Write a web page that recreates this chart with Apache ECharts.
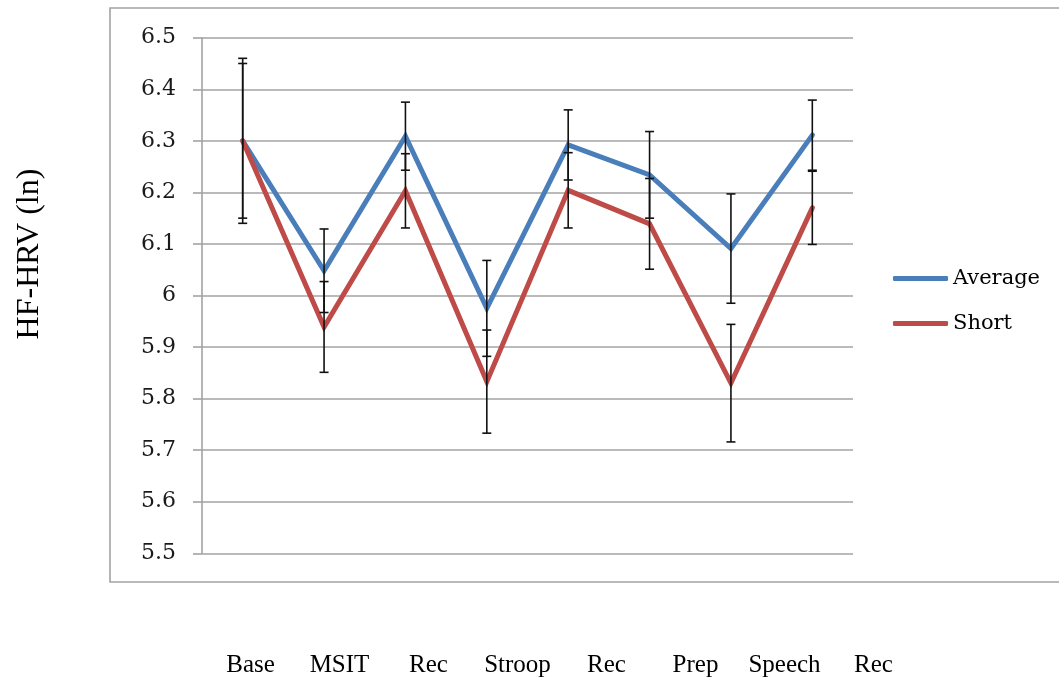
<!DOCTYPE html>
<html>
<head>
<meta charset="utf-8">
<script src="https://cdn.jsdelivr.net/npm/echarts@6/dist/echarts.min.js"></script>
<style>
  html, body { margin: 0; padding: 0; background: #ffffff; }
  #chart { width: 1059px; height: 683px; }
</style>
</head>
<body>
<div id="chart"></div>
<script>
// Task phases along the session
const phases = ['Base', 'MSIT', 'Rec', 'Stroop', 'Rec', 'Prep', 'Speech', 'Rec'];

// Mean HF-HRV (ln) per phase, with error bar half-lengths
const averageValues = [6.30, 6.048, 6.309, 5.975, 6.292, 6.234, 6.091, 6.311];
const averageErrors = [0.150, 0.081, 0.066, 0.093, 0.068, 0.084, 0.106, 0.068];
const shortValues   = [6.30, 5.939, 6.203, 5.833, 6.204, 6.139, 5.830, 6.170];
const shortErrors   = [0.160, 0.088, 0.072, 0.100, 0.073, 0.088, 0.114, 0.071];

// Value axis ticks
const yMin = 5.5;
const yMax = 6.5;
const yStep = 0.1;

const seriesNames = ['Average', 'Short'];
const seriesColors = ['#4A7EBB', '#BE4B48'];

const serifNum = '"DejaVu Serif", serif';
const serifText = '"Liberation Serif", "Times New Roman", serif';

function errorBarSeries(values, errors) {
  return {
    type: 'custom',
    xAxisIndex: 0,
    yAxisIndex: 0,
    z: 4,
    silent: true,
    encode: { x: 0, y: 1 },
    data: values.map((v, i) => [i, v, errors[i]]),
    renderItem: function (params, api) {
      const i = api.value(0);
      const v = api.value(1);
      const e = api.value(2);
      const hi = api.coord([i, v + e]);
      const lo = api.coord([i, v - e]);
      const half = 4.5;
      const style = { stroke: '#111111', lineWidth: 1.6 };
      return {
        type: 'group',
        children: [
          { type: 'line', shape: { x1: hi[0], y1: hi[1], x2: lo[0], y2: lo[1] }, style: style },
          { type: 'line', shape: { x1: hi[0] - half, y1: hi[1], x2: hi[0] + half, y2: hi[1] }, style: style },
          { type: 'line', shape: { x1: lo[0] - half, y1: lo[1], x2: lo[0] + half, y2: lo[1] }, style: style }
        ]
      };
    }
  };
}

const chart = echarts.init(document.getElementById('chart'), null, { renderer: 'canvas' });

const option = {
  animation: false,
  backgroundColor: '#ffffff',
  graphic: [
    {
      type: 'rect',
      z: -10,
      shape: { x: 110, y: 8, width: 1100, height: 574 },
      style: { fill: 'none', stroke: '#a3a3a3', lineWidth: 1.6 }
    },
    {
      type: 'text',
      x: 30,
      y: 254,
      rotation: Math.PI / 2,
      style: {
        text: 'HF-HRV (ln)',
        font: '32px ' + serifText,
        fill: '#000000',
        textAlign: 'center',
        textVerticalAlign: 'middle'
      }
    }
  ],
  legend: {
    data: seriesNames,
    orient: 'vertical',
    left: 888,
    top: 263,
    icon: 'roundRect',
    itemWidth: 55,
    itemHeight: 5,
    itemGap: 24,
    textStyle: { fontFamily: serifNum, fontSize: 21, color: '#000000', lineHeight: 21 }
  },
  grid: [
    { left: 202, right: 206, top: 37.7, bottom: 129.7, containLabel: false },
    { left: 206, width: 712, top: 600, height: 50, containLabel: false }
  ],
  xAxis: [
    {
      type: 'category',
      gridIndex: 0,
      data: phases,
      boundaryGap: true,
      axisLine: { show: false },
      axisTick: { show: false },
      axisLabel: { show: false },
      splitLine: { show: false }
    },
    {
      type: 'category',
      gridIndex: 1,
      data: phases,
      boundaryGap: true,
      axisLine: { show: false },
      axisTick: { show: false },
      splitLine: { show: false },
      axisLabel: {
        show: true,
        interval: 0,
        margin: 15,
        verticalAlign: 'middle',
        fontFamily: serifText,
        fontSize: 25,
        color: '#000000'
      }
    }
  ],
  yAxis: [
    {
      type: 'value',
      gridIndex: 0,
      min: yMin,
      max: yMax,
      interval: yStep,
      axisLine: { show: true, lineStyle: { color: '#a3a3a3', width: 1.6 } },
      axisTick: { show: true, inside: false, length: 9, lineStyle: { color: '#a3a3a3', width: 1.6 } },
      splitLine: { show: true, lineStyle: { color: '#a3a3a3', width: 1.6 } },
      axisLabel: {
        margin: 26,
        fontFamily: serifNum,
        fontSize: 22,
        color: '#1a1a1a',
        formatter: function (v) { return String(Math.round(v * 10) / 10); }
      }
    },
    {
      type: 'value',
      gridIndex: 1,
      show: false
    }
  ],
  series: [
    {
      name: seriesNames[0],
      type: 'line',
      data: averageValues,
      symbol: 'none',
      z: 3,
      color: seriesColors[0],
      lineStyle: { color: seriesColors[0], width: 5, cap: 'round', join: 'miter' }
    },
    {
      name: seriesNames[1],
      type: 'line',
      data: shortValues,
      symbol: 'none',
      z: 3,
      color: seriesColors[1],
      lineStyle: { color: seriesColors[1], width: 5, cap: 'round', join: 'miter' }
    },
    errorBarSeries(averageValues, averageErrors),
    errorBarSeries(shortValues, shortErrors)
  ]
};

chart.setOption(option);
</script>
</body>
</html>
